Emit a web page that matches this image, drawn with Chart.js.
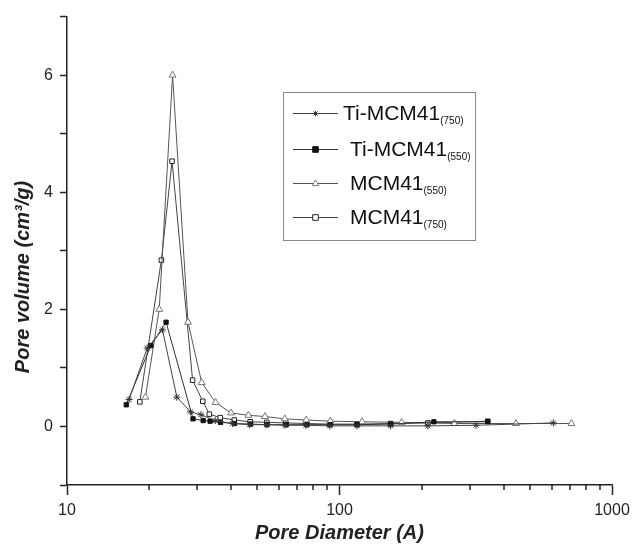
<!DOCTYPE html>
<html>
<head>
<meta charset="utf-8">
<script src="https://cdn.jsdelivr.net/npm/chart.js@4.4.1/dist/chart.umd.min.js"></script>
<style>
  html, body { margin: 0; padding: 0; background: #fff; }
  #wrap { width: 632px; height: 547px; position: relative; }
</style>
</head>
<body>
<div id="wrap"><canvas id="c" width="632" height="547"></canvas></div>
<script>
// ---- data (pore diameter in Å, pore volume in cm3/g) ----
const seriesNames = ['Ti-MCM41', 'Ti-MCM41', 'MCM41', 'MCM41'];
const seriesSubs = ['(750)', '(550)', '(550)', '(750)'];

const diamTi750 = [16.9, 19.7, 22.4, 25.3, 28.4, 31.0, 35.0, 40.5, 46.8, 54.1, 63.1, 75.3, 92.1, 116, 154, 211, 317, 609];
const volTi750  = [0.46, 1.34, 1.65, 0.50, 0.25, 0.20, 0.10, 0.05, 0.03, 0.03, 0.02, 0.02, 0.01, 0.01, 0.01, 0.01, 0.02, 0.06];

const diamTi550 = [16.5, 20.3, 23.1, 29.0, 31.6, 33.5, 36.6, 41.2, 47.2, 54.2, 63.8, 76.0, 92.5, 116, 154, 222, 350];
const volTi550  = [0.37, 1.38, 1.78, 0.13, 0.10, 0.09, 0.07, 0.05, 0.04, 0.03, 0.03, 0.03, 0.03, 0.03, 0.04, 0.08, 0.08];

const diamM550 = [19.4, 21.8, 24.4, 27.8, 31.2, 35.1, 40.0, 46.3, 53.3, 63.0, 75.5, 92.5, 121, 169, 264, 444, 710];
const volM550  = [0.50, 2.00, 6.00, 1.78, 0.75, 0.41, 0.23, 0.19, 0.17, 0.13, 0.11, 0.09, 0.08, 0.07, 0.05, 0.05, 0.05];

const diamM750 = [18.5, 22.2, 24.3, 28.9, 31.5, 33.3, 36.5, 41.1, 47.0, 54.1, 63.5, 75.5, 92.0, 116, 154, 211, 350];
const volM750  = [0.42, 2.84, 4.53, 0.79, 0.43, 0.21, 0.15, 0.11, 0.08, 0.07, 0.06, 0.05, 0.04, 0.04, 0.05, 0.06, 0.09];

const xTickValues = [10,20,30,40,50,60,70,80,90,100,200,300,400,500,600,700,800,900,1000];
const xTickLabels = [10, 100, 1000];
const yTickLabels = [0, 2, 4, 6];
const yTitle = 'Pore volume (cm³/g)';
const xTitle = 'Pore Diameter (A)';

const FONT = "'Liberation Sans', Arial, Helvetica, sans-serif";
const pts = (xs, ys) => xs.map((x, i) => ({x: x, y: ys[i]}));

const styles = [
  {pointStyle: 'star', radius: 3.5, fill: '#333', stroke: '#333', line: '#444'},
  {pointStyle: 'rect', radius: 3, fill: '#111', stroke: '#111', line: '#333'},
  {pointStyle: 'triangle', radius: 4, fill: '#fff', stroke: '#777', line: '#555'},
  {pointStyle: 'rect', radius: 3.2, fill: '#fff', stroke: '#222', line: '#444'}
];

const datasets = [
  pts(diamTi750, volTi750),
  pts(diamTi550, volTi550),
  pts(diamM550, volM550),
  pts(diamM750, volM750)
].map((d, i) => ({
  label: seriesNames[i] + seriesSubs[i],
  data: d,
  borderColor: styles[i].line,
  borderWidth: 1,
  pointStyle: styles[i].pointStyle,
  pointRadius: styles[i].radius,
  pointBackgroundColor: styles[i].fill,
  pointBorderColor: styles[i].stroke,
  pointBorderWidth: 1,
  tension: 0,
  fill: false
}));

function drawMarker(ctx, style, x, y, r) {
  ctx.save();
  ctx.lineWidth = 1;
  ctx.strokeStyle = style.stroke;
  ctx.fillStyle = style.fill;
  ctx.beginPath();
  if (style.pointStyle === 'rect') {
    ctx.rect(x - r, y - r, 2 * r, 2 * r);
    ctx.fill(); ctx.stroke();
  } else if (style.pointStyle === 'triangle') {
    ctx.moveTo(x, y - r);
    ctx.lineTo(x + r * 0.95, y + r * 0.6);
    ctx.lineTo(x - r * 0.95, y + r * 0.6);
    ctx.closePath();
    ctx.fill(); ctx.stroke();
  } else {
    for (let k = 0; k < 4; k++) {
      const a = k * Math.PI / 4;
      ctx.moveTo(x - r * Math.cos(a), y - r * Math.sin(a));
      ctx.lineTo(x + r * Math.cos(a), y + r * Math.sin(a));
    }
    ctx.stroke();
  }
  ctx.restore();
}

const customPlugin = {
  id: 'custom',
  afterDraw(chart) {
    const ctx = chart.ctx;
    const xs = chart.scales.x;
    const bottom = chart.chartArea.bottom;
    // minor x ticks
    ctx.save();
    ctx.strokeStyle = '#222';
    ctx.lineWidth = 1.5;
    xTickValues.forEach(v => {
      if (xTickLabels.includes(v)) return;
      const px = Math.round(xs.getPixelForValue(v));
      ctx.beginPath();
      ctx.moveTo(px, bottom);
      ctx.lineTo(px, bottom + 5);
      ctx.stroke();
    });
    ctx.restore();

    // y axis title
    ctx.save();
    ctx.translate(23, 277);
    ctx.rotate(-Math.PI / 2);
    ctx.fillStyle = '#222';
    ctx.textAlign = 'center';
    ctx.textBaseline = 'middle';
    ctx.font = 'italic bold 20px ' + FONT;
    ctx.fillText(yTitle, 0, 0);
    ctx.restore();

    // legend box
    ctx.save();
    const bx = 283, by = 92, bw = 192, bh = 148;
    ctx.fillStyle = '#fff';
    ctx.fillRect(bx, by, bw, bh);
    ctx.strokeStyle = '#888';
    ctx.lineWidth = 1;
    ctx.strokeRect(bx + 0.5, by + 0.5, bw, bh);
    const rowsY = [113, 149, 183, 217];
    const textX = [343, 350, 350, 350];
    rowsY.forEach((ry, i) => {
      ctx.strokeStyle = styles[i].line;
      ctx.lineWidth = 1;
      ctx.beginPath();
      ctx.moveTo(293, ry + 0.5);
      ctx.lineTo(338, ry + 0.5);
      ctx.stroke();
      drawMarker(ctx, styles[i], 315.5, ry + 0.5, styles[i].pointStyle === 'triangle' ? 3.5 : 2.8);
      ctx.fillStyle = '#111';
      ctx.textBaseline = 'alphabetic';
      ctx.textAlign = 'left';
      ctx.font = '21px ' + FONT;
      ctx.fillText(seriesNames[i], textX[i], ry + 7);
      const w = ctx.measureText(seriesNames[i]).width;
      ctx.font = '10px ' + FONT;
      ctx.fillText(seriesSubs[i], textX[i] + w, ry + 11);
    });
    ctx.restore();
  }
};

new Chart(document.getElementById('c'), {
  type: 'line',
  data: { datasets: datasets },
  plugins: [customPlugin],
  options: {
    responsive: false,
    animation: false,
    devicePixelRatio: 1,
    layout: { padding: { top: 15, right: 20, left: 0, bottom: 0 } },
    plugins: { legend: { display: false }, tooltip: { enabled: false } },
    elements: { line: { tension: 0 } },
    scales: {
      x: {
        type: 'logarithmic',
        position: 'bottom',
        min: 10,
        max: 1000,
        afterBuildTicks: (scale) => { scale.ticks = xTickValues.map(v => ({value: v})); },
        afterFit: (scale) => {
          scale.height = 62;
          scale.paddingLeft = 0; scale.paddingRight = 0;
        },
        border: { display: true, color: '#222', width: 1.5 },
        grid: {
          drawOnChartArea: false,
          drawTicks: true,
          tickLength: 10,
          tickWidth: 1.5,
          tickColor: (c) => (c.tick && xTickLabels.includes(c.tick.value)) ? '#222' : 'rgba(0,0,0,0)'
        },
        ticks: {
          autoSkip: false,
          maxRotation: 0,
          padding: 6,
          color: '#222',
          font: { family: FONT, size: 16 },
          callback: (v) => xTickLabels.includes(v) ? String(v) : ''
        },
        title: {
          display: true,
          text: xTitle,
          color: '#222',
          font: { family: FONT, size: 20, weight: 'bold', style: 'italic' },
          padding: { top: 0, bottom: 2 }
        }
      },
      y: {
        type: 'linear',
        position: 'left',
        min: -1,
        max: 7,
        afterFit: (scale) => { scale.width = 67; },
        border: { display: true, color: '#222', width: 1.5 },
        grid: {
          drawOnChartArea: false,
          drawTicks: true,
          tickLength: 7,
          tickWidth: 1.5,
          tickColor: '#222'
        },
        ticks: {
          stepSize: 1,
          padding: 7,
          color: '#222',
          font: { family: FONT, size: 16 },
          callback: (v) => yTickLabels.includes(v) ? String(v) : ''
        },
        title: { display: false }
      }
    }
  }
});
</script>
</body>
</html>
